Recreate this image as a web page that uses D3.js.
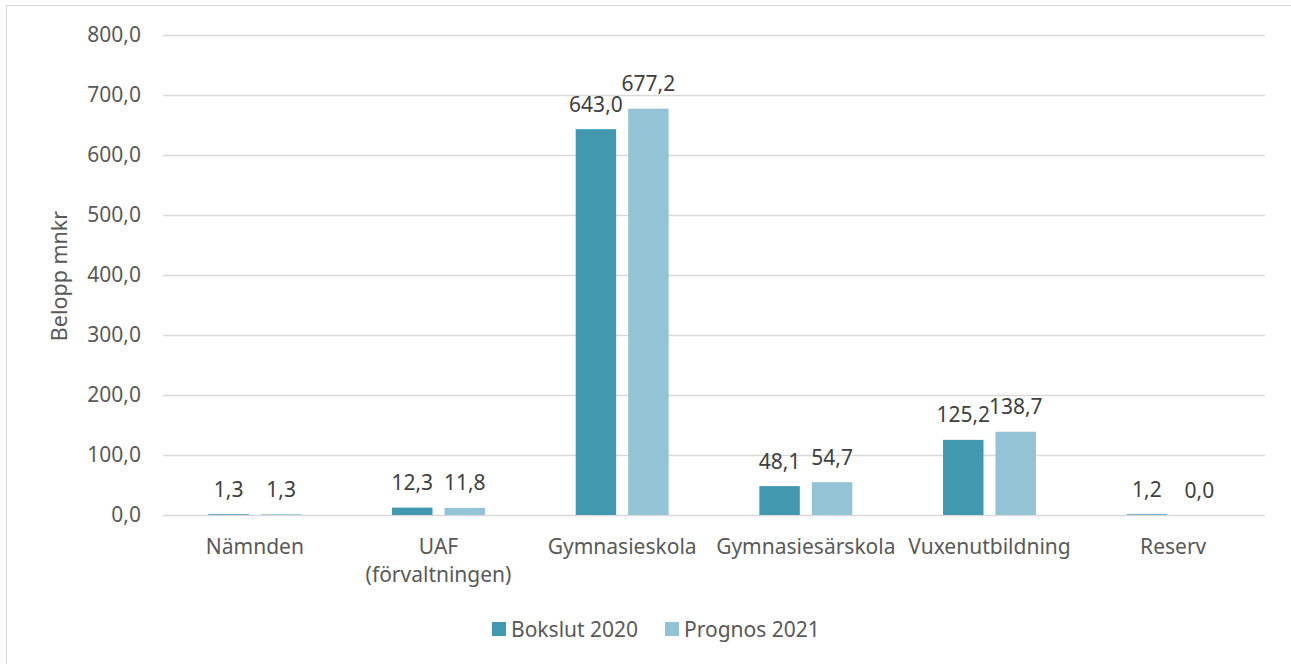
<!DOCTYPE html>
<html>
<head>
<meta charset="utf-8">
<script src="https://cdn.jsdelivr.net/npm/d3@7"></script>
<style>
  html, body { margin: 0; padding: 0; background: #fff; }
  svg { display: block; font-family: "Noto Sans", sans-serif; }
</style>
</head>
<body>
<svg id="chart" width="1291" height="664"></svg>
<script>
const categories = ["Nämnden", "UAF (förvaltningen)", "Gymnasieskola", "Gymnasiesärskola", "Vuxenutbildning", "Reserv"];
const categoryLines = [["Nämnden"], ["UAF", "(förvaltningen)"], ["Gymnasieskola"], ["Gymnasiesärskola"], ["Vuxenutbildning"], ["Reserv"]];
const seriesNames = ["Bokslut 2020", "Prognos 2021"];
const bokslut2020 = [1.3, 12.3, 643.0, 48.1, 125.2, 1.2];
const prognos2021 = [1.3, 11.8, 677.2, 54.7, 138.7, 0.0];
const yTicks = [0, 100, 200, 300, 400, 500, 600, 700, 800];
const colors = ["#4198af", "#93c3d5"];

(function () {
const svg = d3.select("#chart");
const pLeft = 163, pRight = 1265, pTop = 35, pBottom = 515;

// outer border
svg.append("rect").attr("x", 6.5).attr("y", 5.5).attr("width", 1300).attr("height", 700)
  .attr("fill", "none").attr("stroke", "#d9d9d9").attr("stroke-width", 1);

const y = d3.scaleLinear().domain([0, 800]).range([pBottom, pTop]);
const x0 = d3.scaleBand().domain(categories).range([pLeft, pRight]).paddingInner(0.494).paddingOuter(0.247);
const x1 = d3.scaleBand().domain(seriesNames).range([0, x0.bandwidth()]).paddingInner(0.229);

const fmt = v => d3.format(".1f")(v).replace(".", ",");

// gridlines
const yAxis = d3.axisLeft(y).tickValues(yTicks).tickSize(-(pRight - pLeft)).tickFormat(fmt).tickPadding(22);
const gy = svg.append("g").attr("transform", `translate(${pLeft},0)`).call(yAxis);
gy.select(".domain").remove();
gy.selectAll(".tick line").attr("stroke", "#d9d9d9").attr("stroke-width", 1.3);
gy.selectAll(".tick text").attr("fill", "#595959").style("font-size", "21px")
  .attr("font-family", "Noto Sans, sans-serif");

// y title
svg.append("text")
  .attr("transform", "translate(67,276) rotate(-90)")
  .attr("text-anchor", "middle")
  .attr("fill", "#595959").style("font-size", "21.5px")
  .text("Belopp mnkr");

// bars
const data = categories.map((c, i) => ({ cat: c, vals: [bokslut2020[i], prognos2021[i]] }));
const groups = svg.append("g").selectAll("g").data(data).join("g")
  .attr("transform", d => `translate(${x0(d.cat)},0)`);

groups.selectAll("rect").data(d => d.vals.map((v, j) => ({ s: seriesNames[j], v, j })))
  .join("rect")
  .attr("x", d => x1(d.s))
  .attr("y", d => y(d.v))
  .attr("width", x1.bandwidth())
  .attr("height", d => y(0) - y(d.v))
  .attr("fill", d => colors[d.j]);

groups.selectAll("text.val").data(d => d.vals.map((v, j) => ({ s: seriesNames[j], v, j })))
  .join("text").attr("class", "val")
  .attr("x", d => x1(d.s) + x1.bandwidth() / 2)
  .attr("y", d => y(d.v) - 17.5)
  .attr("text-anchor", "middle")
  .attr("fill", "#404040").style("font-size", "21px")
  .text(d => fmt(d.v));

// category labels (one text element per line)
const catG = svg.append("g");
categories.forEach((c, i) => {
  categoryLines[i].forEach((line, k) => {
    catG.append("text")
      .attr("x", x0(c) + x0.bandwidth() / 2)
      .attr("y", 554 + k * 28)
      .attr("text-anchor", "middle")
      .attr("fill", "#595959").style("font-size", "21px")
      .text(line);
  });
});

// legend
const legendX = [492, 665];
const lg = svg.append("g").selectAll("g").data(seriesNames).join("g")
  .attr("transform", (d, i) => `translate(${legendX[i]},622)`);
lg.append("rect").attr("width", 14).attr("height", 14).attr("fill", (d, i) => colors[i]);
lg.append("text").attr("x", 19).attr("y", 14.5).attr("fill", "#595959").style("font-size", "21px").text(d => d);
})();
</script>
</body>
</html>
